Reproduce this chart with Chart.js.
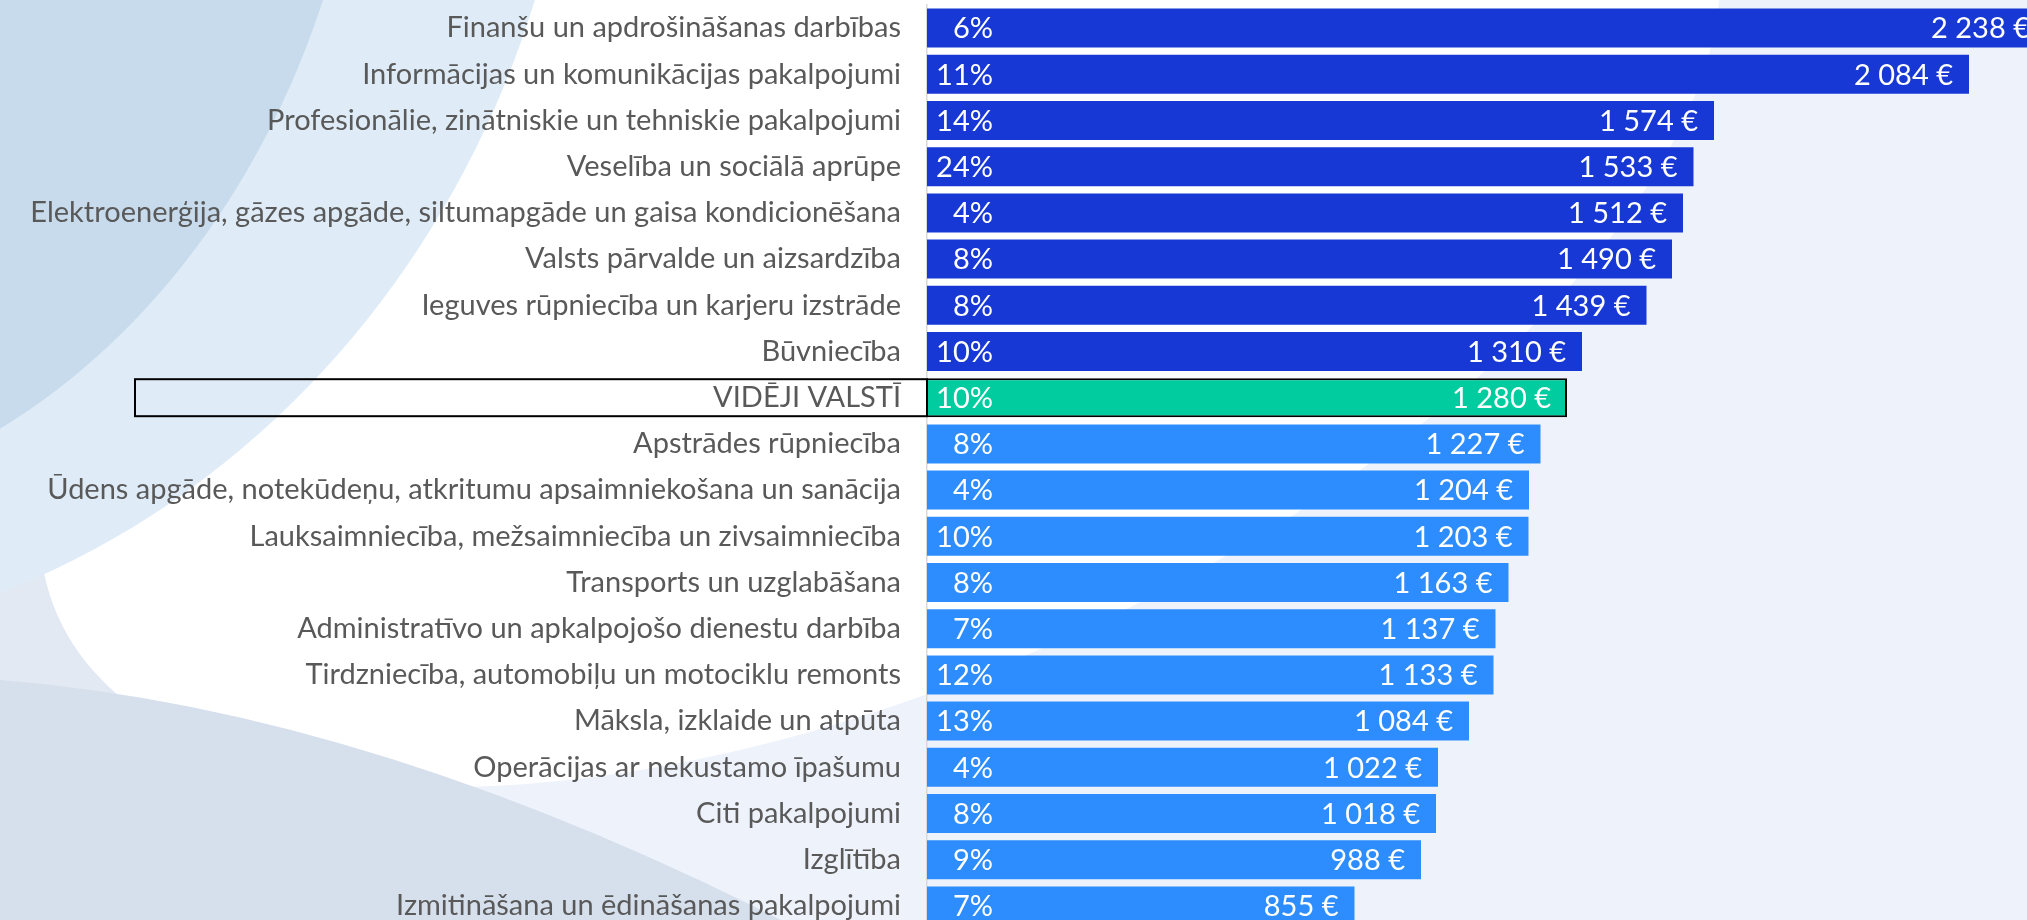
<!DOCTYPE html>
<html lang="lv">
<head>
<meta charset="utf-8">
<title>Vidējā darba samaksa pa nozarēm</title>
<script src="https://cdn.jsdelivr.net/npm/chart.js@4.4.1/dist/chart.umd.min.js"></script>
<style>
    html, body { margin: 0; padding: 0; overflow: hidden; background: #eef3fb; }
    #wrap { width: 2027px; height: 920px; overflow: hidden; }
    canvas { display: block; }
</style>
</head>
<body>
<div id="wrap"><canvas id="wageChart" width="2142" height="935"></canvas></div>
<script>
// Nozares, sakārtotas pēc vidējās bruto samaksas
const categories = [
    'Finanšu un apdrošināšanas darbības',
    'Informācijas un komunikācijas pakalpojumi',
    'Profesionālie, zinātniskie un tehniskie pakalpojumi',
    'Veselība un sociālā aprūpe',
    'Elektroenerģija, gāzes apgāde, siltumapgāde un gaisa kondicionēšana',
    'Valsts pārvalde un aizsardzība',
    'Ieguves rūpniecība un karjeru izstrāde',
    'Būvniecība',
    'VIDĒJI VALSTĪ',
    'Apstrādes rūpniecība',
    'Ūdens apgāde, notekūdeņu, atkritumu apsaimniekošana un sanācija',
    'Lauksaimniecība, mežsaimniecība un zivsaimniecība',
    'Transports un uzglabāšana',
    'Administratīvo un apkalpojošo dienestu darbība',
    'Tirdzniecība, automobiļu un motociklu remonts',
    'Māksla, izklaide un atpūta',
    'Operācijas ar nekustamo īpašumu',
    'Citi pakalpojumi',
    'Izglītība',
    'Izmitināšana un ēdināšanas pakalpojumi'
];

const wages = [2238, 2084, 1574, 1533, 1512, 1490, 1439, 1310, 1280, 1227,
               1204, 1203, 1163, 1137, 1133, 1084, 1022, 1018, 988, 855];

const shares = ['6%', '11%', '14%', '24%', '4%', '8%', '8%', '10%', '10%', '8%',
                '4%', '10%', '8%', '7%', '12%', '13%', '4%', '8%', '9%', '7%'];

const averageLabel = 'VIDĒJI VALSTĪ';
const averageIndex = categories.indexOf(averageLabel);

const xMax = 2430;      // axis runs past the window, top bar is cut off
const axisLeft = 927;   // width of the label column
const labelFont = '29px Lato';

function formatEuro(v) {
    return String(v).replace(/\B(?=(\d{3})+(?!\d))/g, ' ') + ' €';
}

function barColor(i) {
    if (i < averageIndex) return '#1738d4';
    if (i === averageIndex) return '#00cc9f';
    return '#2e8dfe';
}

// soft blue swooshes behind the chart
const backdrop = {
    id: 'backdrop',
    beforeDraw(chart) {
        const ctx = chart.ctx;
        ctx.save();
        ctx.fillStyle = '#eef3fb';
        ctx.fillRect(0, 0, chart.width, chart.height);

        ctx.fillStyle = '#e3e9f3';
        ctx.fillRect(0, 380, 300, 400);

        ctx.fillStyle = '#ffffff';
        ctx.beginPath();
        ctx.ellipse(880, 250, 900, 430, -24 * Math.PI / 180, 0, Math.PI * 2);
        ctx.fill();

        ctx.fillStyle = '#dfecf7';
        ctx.beginPath();
        ctx.ellipse(-300, -300, 880, 950, 0, 0, Math.PI * 2);
        ctx.fill();

        ctx.fillStyle = '#c7dbec';
        ctx.beginPath();
        ctx.ellipse(-300, -300, 670, 815, 0, 0, Math.PI * 2);
        ctx.fill();

        ctx.fillStyle = '#d6dfec';
        ctx.beginPath();
        ctx.moveTo(0, 680);
        ctx.quadraticCurveTo(380, 710, 820, 940);
        ctx.lineTo(0, 940);
        ctx.closePath();
        ctx.fill();
        ctx.restore();
    }
};

// share labels at the bar start, euro amounts at the bar end, box round the average row
const barLabels = {
    id: 'barLabels',
    afterDatasetsDraw(chart) {
        const { ctx, chartArea } = chart;
        const meta = chart.getDatasetMeta(0);
        ctx.save();
        ctx.font = labelFont;
        ctx.fillStyle = '#ffffff';
        ctx.textBaseline = 'middle';
        ctx.textAlign = 'right';
        meta.data.forEach((bar, i) => {
            ctx.fillText(shares[i], chartArea.left + 66, bar.y + 1);
            ctx.fillText(formatEuro(wages[i]), bar.x - 16, bar.y + 1);
        });

        const avg = meta.data[averageIndex];
        ctx.strokeStyle = '#000000';
        ctx.lineWidth = 2;
        ctx.strokeRect(135, avg.y - avg.height / 2 + 1, chartArea.left - 135, avg.height - 2);
        ctx.restore();
    }
};

function drawChart() {
    const ctx = document.getElementById('wageChart');
    new Chart(ctx, {
        type: 'bar',
        data: {
            labels: categories,
            datasets: [{
                data: wages,
                backgroundColor: categories.map((c, i) => barColor(i)),
                borderColor: categories.map((c, i) => i === averageIndex ? '#000000' : 'rgba(0,0,0,0)'),
                borderWidth: categories.map((c, i) => i === averageIndex ? 2 : 0),
                barPercentage: 0.844,
                categoryPercentage: 1
            }]
        },
        options: {
            responsive: false,
            animation: false,
            indexAxis: 'y',
            layout: { padding: { top: 5, bottom: 6, left: 0, right: 0 } },
            plugins: {
                legend: { display: false },
                tooltip: { enabled: false }
            },
            scales: {
                x: { display: false, min: 0, max: xMax },
                y: {
                    afterFit: (scale) => {
                        scale.width = axisLeft;
                        scale.paddingTop = 0;
                        scale.paddingBottom = 0;
                    },
                    grid: { display: false, drawTicks: false },
                    border: { display: true, color: '#d9d9d9', width: 1.5 },
                    ticks: {
                        autoSkip: false,
                        padding: 26,
                        color: '#595959',
                        font: { family: 'Lato', size: 29 }
                    }
                }
            }
        },
        plugins: [backdrop, barLabels]
    });
}

document.fonts.load(labelFont).then(drawChart, drawChart);
</script>
</body>
</html>
